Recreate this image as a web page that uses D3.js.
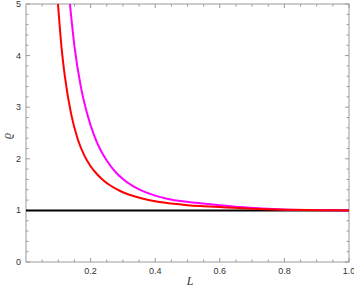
<!DOCTYPE html>
<html><head><meta charset="utf-8">
<script src="https://cdn.jsdelivr.net/npm/d3@7"></script>
<style>body{margin:0;background:#fff}svg{display:block}</style>
</head><body><svg id="c" width="354" height="292"></svg>
<script>
const redL   = [0.099,0.11,0.12,0.14,0.16,0.18,0.20,0.22,0.24,0.26,0.29,0.32,0.36,0.40,0.45,0.50,0.55,0.62,0.70,0.80,0.90,1.00];
const redRho = [5.00, 4.16,3.61,2.86,2.385,2.07,1.855,1.70,1.58,1.487,1.381,1.304,1.23,1.176,1.133,1.102,1.0815,1.058,1.033,1.015,1.005,1.0];
const magL   = [0.136,0.15,0.17,0.19,0.21,0.23,0.25,0.275,0.30,0.33,0.36,0.40,0.44,0.49,0.54,0.60,0.66,0.73,0.80,0.90,1.00];
const magRho = [5.00, 4.18,3.39,2.86,2.47,2.18,1.967,1.759,1.608,1.475,1.378,1.287,1.222,1.172,1.137,1.098,1.064,1.037,1.018,1.006,1.0];
const baseL  = [0.0, 1.0];
const baseRho= [1.0, 1.0];
const xMajor = [0.2,0.4,0.6,0.8,1.0];
const yMajor = [0,1,2,3,4,5];

const svg = d3.select('#c');
const m = {l:26, r:349, t:4, b:262};
const x = d3.scaleLinear().domain([0,1]).range([m.l,m.r]);
const y = d3.scaleLinear().domain([0,5]).range([m.b,m.t]);

const gray = '#9a9a9a';
svg.append('defs').append('clipPath').attr('id','clip')
  .append('rect').attr('x',m.l).attr('y',m.t).attr('width',m.r-m.l).attr('height',m.b-m.t);

const xMinor = d3.range(0.05,1.0001,0.05).filter(v=>Math.abs(v*5-Math.round(v*5))>1e-6);
const yMinor = d3.range(0.2,5.0001,0.2).filter(v=>Math.abs(v-Math.round(v))>1e-6);

const ax = svg.append('g');
function xt(vals,len){
  vals.forEach(v=>{
    ax.append('line').attr('x1',x(v)).attr('x2',x(v)).attr('y1',m.b).attr('y2',m.b-len).attr('stroke',gray);
    ax.append('line').attr('x1',x(v)).attr('x2',x(v)).attr('y1',m.t).attr('y2',m.t+len).attr('stroke',gray);
  });
}
function yt(vals,len){
  vals.forEach(v=>{
    ax.append('line').attr('y1',y(v)).attr('y2',y(v)).attr('x1',m.l).attr('x2',m.l+len).attr('stroke',gray);
    ax.append('line').attr('y1',y(v)).attr('y2',y(v)).attr('x1',m.r).attr('x2',m.r-len).attr('stroke',gray);
  });
}
xt(xMajor,4); xt(xMinor,2.5); yt(yMajor,4); yt(yMinor,2.5);
ax.append('rect').attr('x',m.l).attr('y',m.t).attr('width',m.r-m.l).attr('height',m.b-m.t)
  .attr('fill','none').attr('stroke',gray).attr('stroke-width',1);

svg.append('g').selectAll('text').data(xMajor).join('text')
  .attr('x',d=>x(d)).attr('y',274).attr('text-anchor','middle')
  .attr('font-family','Liberation Sans, Arial, sans-serif').attr('font-size',9).attr('fill','#333')
  .text(d=>d.toFixed(1));
svg.append('g').selectAll('text').data(yMajor).join('text')
  .attr('x',21).attr('y',d=>y(d)+3).attr('text-anchor','end')
  .attr('font-family','Liberation Sans, Arial, sans-serif').attr('font-size',9).attr('fill','#333')
  .text(d=>d);

svg.append('text').attr('x',190).attr('y',285).attr('text-anchor','middle')
  .attr('font-family','Liberation Serif, Times New Roman, serif').attr('font-style','italic')
  .attr('font-size',12).attr('fill','#333').text('L');
svg.append('text').attr('transform','translate(11,136) rotate(-90)').attr('text-anchor','middle')
  .attr('font-family','Liberation Serif, Times New Roman, serif').attr('font-style','italic')
  .attr('font-size',12).attr('fill','#333').text('ϱ');

const line = d3.line().x(d=>x(d[0])).y(d=>y(d[1])).curve(d3.curveMonotoneX);
const plot = svg.append('g').attr('clip-path','url(#clip)');
plot.append('path').datum(d3.zip(baseL,baseRho)).attr('d',line).attr('fill','none').attr('stroke','#000').attr('stroke-width',2);
plot.append('path').datum(d3.zip(magL,magRho)).attr('d',line).attr('fill','none').attr('stroke','#ff00ff').attr('stroke-width',2);
plot.append('path').datum(d3.zip(redL,redRho)).attr('d',line).attr('fill','none').attr('stroke','#ff0000').attr('stroke-width',2);
</script></body></html>
